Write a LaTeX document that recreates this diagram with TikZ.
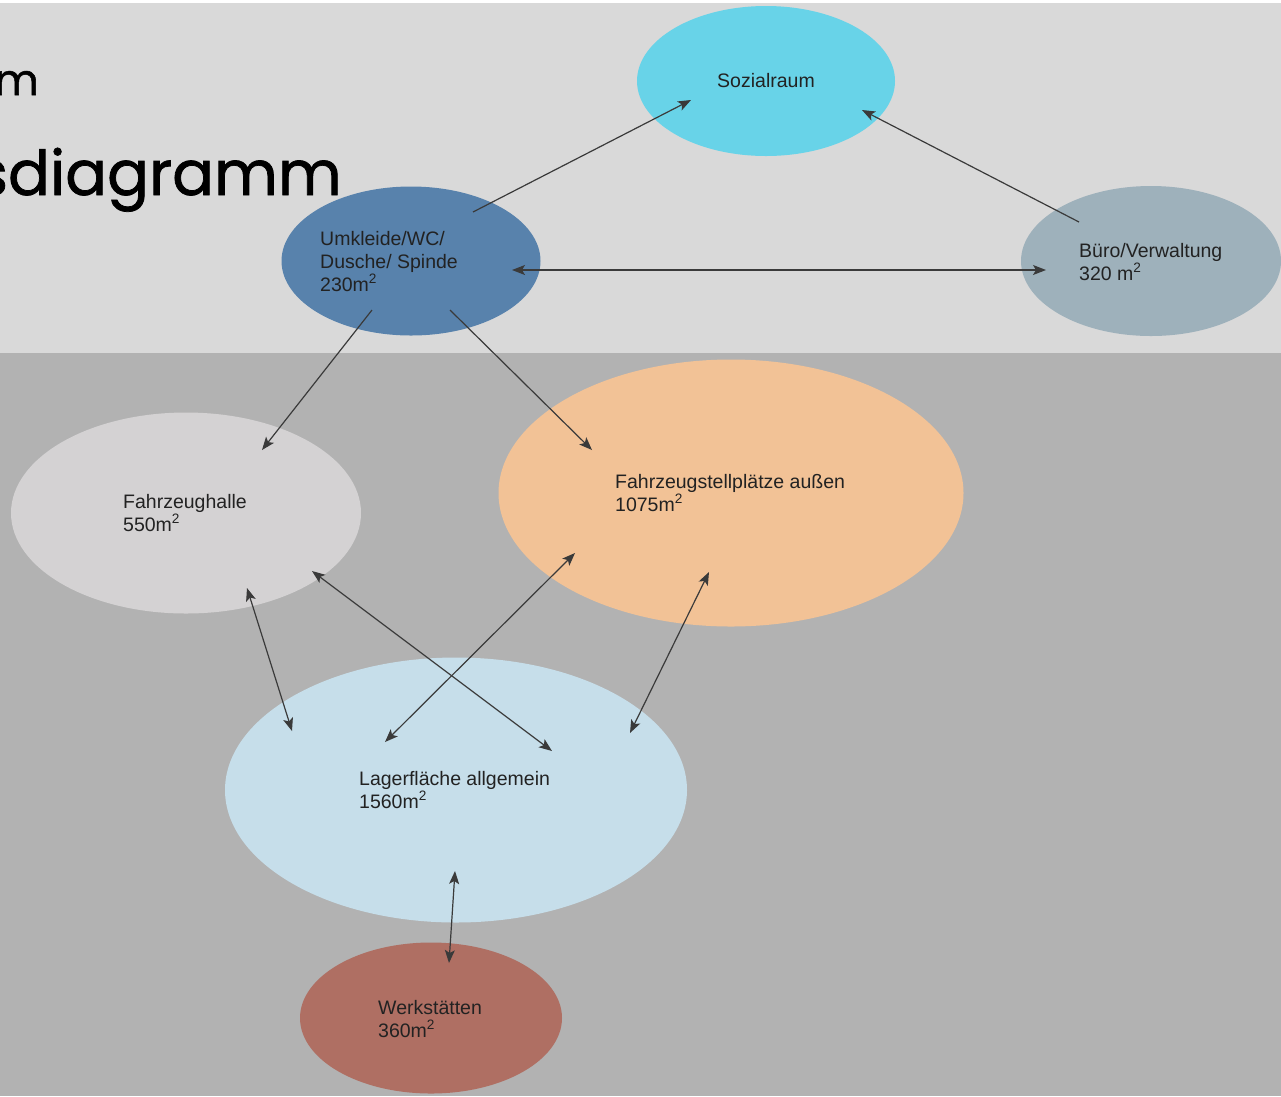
\documentclass[tikz,border=0pt]{standalone}
\usepackage{fontspec}
\setmainfont{Liberation Sans}
\newfontfamily\titlefont{Poppins}[FakeBold=1.2]
\usetikzlibrary{shapes.geometric,arrows.meta}
\definecolor{bgtop}{HTML}{D9D9D9}
\definecolor{bgbot}{HTML}{B2B2B2}
\definecolor{csozial}{HTML}{68D3E8}
\definecolor{cumk}{HTML}{5882AC}
\definecolor{cbuero}{HTML}{9EB1BB}
\definecolor{challe}{HTML}{D4D2D3}
\definecolor{cstell}{HTML}{F2C296}
\definecolor{clager}{HTML}{C6DEEA}
\definecolor{cwerk}{HTML}{AF6F63}
\definecolor{txt}{HTML}{222222}
\definecolor{conn}{HTML}{3A3A3A}
\tikzset{
  room/.style={ellipse, draw=none, inner sep=0pt},
  lbl/.style={anchor=base west, align=left, text=txt, inner sep=0pt,
    font=\fontsize{19.5}{23}\selectfont},
  link/.style={draw=conn, line width=1.2pt, -{Stealth[length=13pt,width=10pt,inset=3pt]}},
  blink/.style={draw=conn, line width=1.2pt, {Stealth[length=13pt,width=10pt,inset=3pt]}-{Stealth[length=13pt,width=10pt,inset=3pt]}},
}
\begin{document}
\begin{tikzpicture}[x=1pt,y=-1pt]
\useasboundingbox (0,0) rectangle (1281,1096);
\fill[white] (0,0) rectangle (1281,3);
\fill[bgtop] (0,3) rectangle (1281,353);
\fill[bgbot] (0,353) rectangle (1281,1096);
% title fragments
\node[anchor=base east, inner sep=0pt, font=\titlefont\fontsize{43}{43}\selectfont] (t1) at (39,95) {m};
\node[anchor=base east, inner sep=0pt, font=\titlefont\fontsize{62}{62}\selectfont] (t2) at (342,195) {sdiagramm};
% rooms
\node[room, fill=csozial, minimum width=258pt, minimum height=150pt] (soz) at (766,81) {};
\node[room, fill=cumk, minimum width=259pt, minimum height=149pt] (umk) at (411,261) {};
\node[room, fill=cbuero, minimum width=260pt, minimum height=150pt] (bue) at (1151,261) {};
\node[room, fill=challe, minimum width=350pt, minimum height=201pt] (hal) at (186,513) {};
\node[room, fill=cstell, minimum width=465pt, minimum height=267pt] (ste) at (731,493) {};
\node[room, fill=clager, minimum width=462pt, minimum height=265pt] (lag) at (456,790) {};
\node[room, fill=cwerk, minimum width=262pt, minimum height=151pt] (wer) at (431,1018) {};
% labels (anchor = baseline of last line)
\node[lbl, anchor=base] (lsoz) at (766,87) {Sozialraum};
\node[lbl] (lumk) at (320,291) {Umkleide/WC/\\Dusche/ Spinde\\230m\textsuperscript{2}};
\node[lbl] (lbue) at (1079,280) {Büro/Verwaltung\\320 m\textsuperscript{2}};
\node[lbl] (lhal) at (123,531) {Fahrzeughalle\\550m\textsuperscript{2}};
\node[lbl] (lste) at (615,511) {Fahrzeugstellplätze außen\\1075m\textsuperscript{2}};
\node[lbl] (llag) at (359,808) {Lagerfläche allgemein\\1560m\textsuperscript{2}};
\node[lbl] (lwer) at (378,1037) {Werkstätten\\360m\textsuperscript{2}};
% connector end points
\coordinate (a1s) at (473,212); \coordinate (a1e) at (691,100);
\coordinate (a2s) at (1079,222); \coordinate (a2e) at (862,110);
\coordinate (a3s) at (512,270); \coordinate (a3e) at (1046,270);
\coordinate (a4s) at (372,310); \coordinate (a4e) at (262,450);
\coordinate (a5s) at (450,310); \coordinate (a5e) at (592,450);
\coordinate (a6s) at (247,588); \coordinate (a6e) at (292,731);
\coordinate (a7s) at (312,571); \coordinate (a7e) at (552,751);
\coordinate (a8s) at (575,553); \coordinate (a8e) at (385,742);
\coordinate (a9s) at (709,572); \coordinate (a9e) at (630,733);
\coordinate (a10s) at (455,871); \coordinate (a10e) at (449,963);
% connectors
\draw[link] (a1s) -- (a1e);
\draw[link] (a2s) -- (a2e);
\draw[blink] (a3s) -- (a3e);
\draw[link] (a4s) -- (a4e);
\draw[link] (a5s) -- (a5e);
\draw[blink] (a6s) -- (a6e);
\draw[blink] (a7s) -- (a7e);
\draw[blink] (a8s) -- (a8e);
\draw[blink] (a9s) -- (a9e);
\draw[blink] (a10s) -- (a10e);
\end{tikzpicture}
\end{document}
